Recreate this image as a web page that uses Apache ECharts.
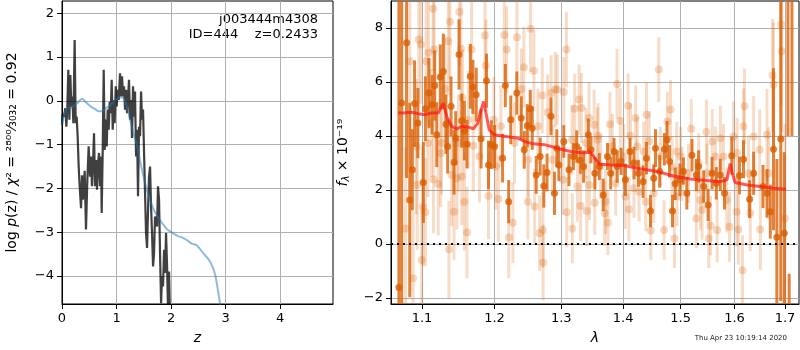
<!DOCTYPE html>
<html>
<head>
<meta charset="utf-8">
<script src="https://cdn.jsdelivr.net/npm/echarts@6.0.0/dist/echarts.min.js"></script>
<style>
  html, body { margin: 0; padding: 0; background: #fff; }
  #chart { width: 800px; height: 350px; }
</style>
</head>
<body>
<div id="chart"></div>
<script>
// left panel: log p(z)
var zGrid = [0.000, 0.012, 0.037, 0.061, 0.080, 0.098, 0.116, 0.135, 0.153, 0.171, 0.190, 0.208, 0.232, 0.251, 0.269, 0.287,
  0.306, 0.324, 0.349, 0.367, 0.385, 0.416, 0.440, 0.465, 0.489, 0.514, 0.532, 0.550, 0.569, 0.587, 0.606, 0.624, 0.642,
  0.661, 0.679, 0.697, 0.716, 0.728, 0.746, 0.765, 0.783, 0.801, 0.820, 0.838, 0.856, 0.875, 0.893, 0.911, 0.930, 0.948,
  0.966, 0.985, 1.003, 1.021, 1.040, 1.064, 1.083, 1.101, 1.119, 1.138, 1.156, 1.174, 1.193, 1.211, 1.229, 1.248, 1.266,
  1.284, 1.303, 1.321, 1.339, 1.358, 1.376, 1.394, 1.413, 1.431, 1.450, 1.468, 1.486, 1.505, 1.523, 1.541, 1.560, 1.578,
  1.596, 1.615, 1.633, 1.651, 1.670, 1.688, 1.706, 1.725, 1.743, 1.761, 1.780, 1.798, 1.817, 1.835, 1.853, 1.872, 1.890,
  1.908, 1.927, 1.945, 1.963, 1.982, 2.000];
var logpDark = [-0.55, -0.30, -0.36, -0.17, -0.59, -0.13, 0.71, -0.43, 0.59, -0.13, 0.10, -0.51, 1.39, -0.51, -0.36, -0.81,
  -1.50, -1.95, -2.45, -1.70, -2.26, -1.60, -2.94, -1.80, -1.04, -1.73, -1.27, -1.95, -1.42, -0.74, -1.95, -1.35, -2.03,
  -1.42, -1.19, -1.95, -1.27, -2.56, -1.19, 0.71, -1.12, -0.43, -1.04, -0.20, -0.66, -0.02, -0.28, 0.48, -0.66, 0.02,
  -0.51, 0.33, -0.13, 0.25, 0.02, 0.63, 0.10, 0.56, 0.10, 0.33, -0.20, 0.25, -0.28, 0.10, 0.48, -0.43, 0.02,
  -0.85, 0.33, -0.36, 0.21, -1.27, -0.66, -2.18, -0.59, -0.81, 0.21, -0.43, -0.20, -1.19, -2.11, -3.02, -3.36, -2.49,
  -1.73, -1.50, -2.41, -3.02, -3.78, -3.48, -2.64, -2.79, -2.87, -1.95, -2.26, -3.48, -4.62, -4.00, -4.24, -3.40, -3.93,
  -3.02, -3.78, -4.80, -3.90, -5.00, -6.00];
var zSmooth = [0.00, 0.03, 0.09, 0.18, 0.28, 0.37, 0.43, 0.49, 0.55, 0.61, 0.67, 0.73, 0.80, 0.86, 0.92, 0.98, 1.07, 1.13,
  1.19, 1.25, 1.31, 1.38, 1.44, 1.50, 1.56, 1.62, 1.68, 1.74, 1.83, 1.93, 2.02, 2.11, 2.20, 2.30, 2.38, 2.47, 2.59, 2.72,
  2.81, 2.90, 3.00];
var logpSmooth = [-0.55, -0.35, -0.18, -0.15, -0.05, 0.05, -0.02, -0.09, -0.15, -0.19, -0.24, -0.24, -0.17, -0.13, -0.05,
  0.02, 0.08, 0.06, -0.13, -0.43, -0.74, -1.04, -1.42, -1.75, -2.05, -2.28, -2.48, -2.62, -2.78, -2.94, -3.01, -3.08,
  -3.12, -3.19, -3.26, -3.30, -3.48, -3.68, -3.98, -4.64, -5.30];
var zTicks = [0, 1, 2, 3, 4];
var logpTicks = [-4, -3, -2, -1, 0, 1, 2];

// right panel: spectrum (wavelength in micron, flux in 1e-19)
var waveDark = [1.0700, 1.0736, 1.0799, 1.0840, 1.0874, 1.0903, 1.0946, 1.1018, 1.1045, 1.1092, 1.1134, 1.1169, 1.1197,
  1.1244, 1.1285, 1.1321, 1.1344, 1.1390, 1.1431, 1.1454, 1.1500, 1.1537, 1.1574, 1.1610, 1.1657, 1.1693,
  1.1739, 1.1808, 1.1885, 1.1913, 1.1954, 1.2000, 1.2116, 1.2156, 1.2205, 1.2236, 1.2325, 1.2390, 1.2435, 1.2480,
  1.2525, 1.2555, 1.2615, 1.2675, 1.2730, 1.2780, 1.2840, 1.2894, 1.2930,
  1.2962, 1.3039, 1.3120, 1.3190, 1.3243, 1.3300, 1.3352, 1.3428, 1.3470, 1.3534, 1.3606, 1.3670, 1.3740, 1.3793,
  1.3848, 1.3902, 1.3966, 1.4038, 1.4115, 1.4184, 1.4259,
  1.4340, 1.4397, 1.4467, 1.4524, 1.4554, 1.4628, 1.4710, 1.4757, 1.4802, 1.4854, 1.4901, 1.4988, 1.5050, 1.5112,
  1.5205, 1.5285, 1.5327, 1.5420, 1.5502, 1.5576, 1.5656, 1.5730,
  1.5810, 1.5948, 1.6095, 1.6174, 1.6293, 1.6372, 1.6557, 1.6636, 1.6702, 1.6767, 1.6834, 1.6913, 1.6984,
  1.7059, 1.7085, 1.7141];
var fluxDark = [-1.61, 5.22, 7.45, 1.63, 2.75, 5.20, 4.48, 2.28, 5.01, 5.59, 5.16, 5.87, 4.05,
  6.19, 6.39, 4.44, 3.61, 5.10, 3.03, 3.92, 7.02, 4.57, 4.20, 3.70, 6.21, 5.82,
  5.53, 3.90, 6.05, 2.93, 3.68, 3.61, 3.18, 5.87, 1.57, 4.60, 5.59, 4.67, 3.49, 4.38,
  5.01, 4.29, 2.56, 3.24, 2.15, 2.65, 4.73, 1.88, 3.55,
  2.93, 3.80, 2.75, 3.24, 3.61, 3.10, 2.87, 4.05, 3.49, 2.62, 2.87, 1.82, 3.24, 2.62,
  3.43, 2.87, 3.06, 2.38, 3.43, 3.00, 2.62,
  2.31, 3.18, 1.22, 2.44, 3.55, 2.69, 3.51, 3.86, 3.06, 1.22, 2.23, 2.38, 2.70, 1.88,
  3.29, 2.56, 2.87, 2.13, 1.45, 2.62, 2.25, 2.56,
  1.88, 3.27, 2.54, 3.14, 1.66, 2.62, 2.13, 1.88, 1.20, 3.51, 0.25, 3.89, 0.40,
  13.0, -4.0, 13.0];
var errDark = [12.0, 9.0, 5.0, 3.6, 1.5, 1.6, 1.3, 1.5, 1.2, 1.3, 1.1, 1.3, 1.2,
  1.2, 1.4, 1.1, 1.0, 1.1, 1.2, 1.0, 1.3, 1.0, 1.1, 0.9, 1.2, 1.0,
  1.0, 1.1, 1.0, 0.9, 0.9, 0.8, 0.9, 0.8, 0.8, 0.9, 0.8, 0.8, 0.7, 0.8,
  0.7, 0.8, 0.7, 0.7, 0.8, 0.7, 0.7, 0.8, 0.7,
  0.6, 0.6, 0.6, 0.5, 0.6, 0.5, 0.6, 0.6, 0.5, 0.6, 0.5, 0.6, 0.5, 0.6,
  0.5, 0.6, 0.5, 0.6, 0.5, 0.6, 0.5,
  0.6, 0.6, 0.6, 0.5, 0.7, 0.6, 0.6, 0.7, 0.6, 0.6, 0.6, 0.6, 0.5, 0.6,
  0.6, 0.6, 0.6, 0.6, 0.6, 0.6, 0.6, 0.6,
  0.6, 0.7, 0.7, 0.7, 0.7, 0.8, 0.8, 0.9, 1.0, 3.0, 2.9, 6.0, 3.0,
  9.0, 2.9, 9.0];

var waveLight = [1.0786, 1.0840, 1.0883, 1.0925, 1.0937, 1.0958, 1.0987, 1.0996, 1.1010, 1.1045, 1.1055, 1.1078, 1.1087,
  1.1124, 1.1147, 1.1152, 1.1161, 1.1216, 1.1248, 1.1262, 1.1307, 1.1354, 1.1362, 1.1376, 1.1399, 1.1431, 1.1472,
  1.1492, 1.1505, 1.1527, 1.1537, 1.1547, 1.1574, 1.1610, 1.1629, 1.1675, 1.1698,
  1.1785, 1.1863, 1.1877, 1.1913, 1.1992, 1.2017, 1.2056, 1.2092, 1.2141, 1.2176, 1.2206, 1.2266, 1.2291, 1.2326,
  1.2392, 1.2430, 1.2490, 1.2495, 1.2531, 1.2580, 1.2591, 1.2641, 1.2666, 1.2707, 1.2716, 1.2720, 1.2790, 1.2842,
  1.2866, 1.2906,
  1.2936, 1.3028, 1.3039, 1.3080, 1.3085, 1.3168, 1.3173, 1.3210, 1.3254, 1.3280, 1.3305, 1.3317, 1.3389, 1.3403,
  1.3441, 1.3446, 1.3522, 1.3532, 1.3576, 1.3587, 1.3629, 1.3693, 1.3710, 1.3748, 1.3781, 1.3820, 1.3875, 1.3899,
  1.3952, 1.4009, 1.4038, 1.4085, 1.4097, 1.4125, 1.4184, 1.4212, 1.4240, 1.4271,
  1.4351, 1.4386, 1.4398, 1.4445, 1.4473, 1.4524, 1.4612, 1.4640, 1.4705, 1.4762, 1.4819, 1.4843, 1.4889, 1.4930,
  1.4935, 1.5000, 1.5025, 1.5142, 1.5192, 1.5285, 1.5327, 1.5359, 1.5391, 1.5471, 1.5483, 1.5514, 1.5546, 1.5578,
  1.5638, 1.5671, 1.5732,
  1.5790, 1.5853, 1.5905, 1.5980, 1.6044, 1.6050, 1.6075, 1.6154, 1.6174, 1.6194, 1.6273, 1.6306, 1.6372, 1.6490,
  1.6504, 1.6636, 1.6668, 1.6747, 1.6767, 1.6919, 1.6933, 1.6998];
var fluxLight = [0.58, 6.77, -1.27, 3.61, 2.19, 7.57, 7.39, -0.59, 1.38, 1.18, 6.77, 3.74, 7.08,
  4.48, 8.71, 2.40, 7.20, 2.22, 3.37, 3.74, 5.74, 7.51, -0.20, 8.23, 2.56, 1.20, 2.44,
  3.74, 8.60, 7.23, 2.50, 5.41, 1.57, 0.43, 4.60, 7.20, 3.64,
  3.24, 7.72, 6.61, 1.78, 4.60, 2.87, 1.67, 4.36, 7.74, 7.20, 0.24, 0.79, 3.74, 7.66,
  5.74, 6.55, 1.57, 3.12, 7.97, 6.42, 1.39, 4.36, 0.40, 5.50, 0.52, -0.68, 4.88, 5.59,
  3.12, 5.72,
  5.72, 2.38, 5.63, 7.20, 1.18, 3.86, 0.58, 5.01, 2.13, 5.35, 1.41, 5.04, 3.74, 1.22,
  4.67, 2.19, 4.42, 1.53, 3.86, 4.01, 2.87, 1.14, 1.57, 0.79, 4.44, 3.61, 2.25, 5.93,
  4.57, 3.24, 1.76, 5.12, 1.29, 4.01, 2.07, 4.67, 3.61, 1.94,
  3.43, 1.57, 4.79, 3.82, 0.50, 1.88, 6.46, 3.24, 0.52, 4.54, 4.98, 2.87, 0.21, 3.43,
  1.76, 3.24, 2.60, 2.62, 4.27, 0.95, 3.00, 1.63, 1.26, 4.15, 2.62, 0.21, 0.68, 3.80,
  3.24, 0.52, 3.92,
  3.24, 1.63, 0.64, 3.98, 1.20, 3.37, 0.54, -0.97, 4.36, 5.10, 2.62, 1.14, 3.98, 3.49,
  0.54, 4.05, 2.62, 6.24, 5.90, 8.13, 7.14, 0.95];
var errLight = [3.0, 2.8, 2.5, 2.5, 2.4, 2.5, 2.2, 2.0, 2.2, 2.0, 2.2, 2.0, 2.1,
  2.0, 2.3, 2.0, 2.1, 1.9, 2.0, 1.9, 2.0, 2.0, 1.8, 2.1, 1.9, 1.8, 1.9,
  1.8, 2.0, 1.9, 1.8, 1.8, 1.8, 1.7, 1.8, 1.8, 1.7,
  1.7, 1.8, 1.7, 1.6, 1.6, 1.6, 1.6, 1.5, 1.7, 1.6, 1.5, 1.5, 1.5, 1.6,
  1.5, 1.5, 1.4, 1.4, 1.6, 1.5, 1.4, 1.4, 1.4, 1.4, 1.4, 1.4, 1.4, 1.4,
  1.3, 1.4,
  1.3, 1.3, 1.3, 1.4, 1.3, 1.3, 1.3, 1.3, 1.3, 1.3, 1.3, 1.3, 1.3, 1.3,
  1.3, 1.3, 1.3, 1.2, 1.2, 1.2, 1.2, 1.2, 1.2, 1.2, 1.2, 1.2, 1.2, 1.3,
  1.2, 1.2, 1.2, 1.2, 1.2, 1.2, 1.1, 1.2, 1.1, 1.1,
  1.1, 1.1, 1.2, 1.1, 1.1, 1.1, 1.2, 1.1, 1.1, 1.1, 1.1, 1.1, 1.1, 1.1,
  1.1, 1.1, 1.0, 1.1, 1.1, 1.1, 1.1, 1.1, 1.1, 1.2, 1.1, 1.1, 1.1, 1.2,
  1.1, 1.2, 1.2,
  1.2, 1.2, 1.3, 1.3, 1.3, 1.3, 1.3, 1.3, 1.4, 1.4, 1.4, 1.4, 1.5, 1.5,
  1.5, 1.7, 1.7, 2.1, 2.3, 3.0, 3.0, 3.5];

var modelWave = [1.0690, 1.0757, 1.0862, 1.0946, 1.1032, 1.1124, 1.1216, 1.1262, 1.1285, 1.1331, 1.1399, 1.1468, 1.1537,
  1.1629, 1.1698, 1.1762, 1.1809, 1.1844, 1.1877, 1.1923, 1.1992, 1.2141, 1.2341, 1.2441, 1.2565, 1.2741, 1.2936,
  1.3147, 1.3363, 1.3444, 1.3497, 1.3606, 1.3793, 1.4009, 1.4293, 1.4583, 1.4871, 1.5174, 1.5483, 1.5732, 1.5856,
  1.5918, 1.5949, 1.6012, 1.6243, 1.6504, 1.6767, 1.7020];
var modelFlux = [4.85, 4.85, 4.88, 4.83, 4.79, 4.85, 4.85, 5.10, 5.22, 4.73, 4.36, 4.26, 4.36,
  4.33, 4.27, 4.48, 4.98, 5.28, 4.85, 4.23, 4.05, 3.99, 3.92, 3.80, 3.71, 3.68, 3.55,
  3.43, 3.37, 3.43, 3.30, 2.96, 2.93, 2.91, 2.79, 2.69, 2.52, 2.41, 2.35, 2.31, 2.38,
  2.98, 2.69, 2.28, 2.19, 2.13, 2.07, 2.03];
var lamTicks = [1.1, 1.2, 1.3, 1.4, 1.5, 1.6, 1.7];
var fluxTicks = [-2, 0, 2, 4, 6, 8];

var orange = 'rgb(217,95,2)';
var orangeBar = 'rgba(217,95,2,0.78)';
var paleBar = 'rgba(217,95,2,0.22)';
var paleDot = 'rgba(217,95,2,0.3)';
var gridGray = '#b0b0b0';
var font = 'DejaVu Sans';

function pairs(xs, ys) {
  return xs.map(function (x, i) { return [x, ys[i]]; });
}
function specPoints(ws, fs, es) {
  return ws.map(function (w, i) { return [Math.log(w), fs[i], es[i]]; });
}
function minus(v) {
  return String(v).replace('-', '\u2212');
}
function errBars(color) {
  return function (params, api) {
    var x = api.value(0), y = api.value(1), e = api.value(2);
    var lo = api.coord([x, y - e]);
    var hi = api.coord([x, y + e]);
    return {
      type: 'line',
      shape: { x1: lo[0], y1: lo[1], x2: hi[0], y2: hi[1] },
      style: { stroke: color, lineWidth: 3 }
    };
  };
}

var axisText = { color: '#000', fontFamily: font, fontSize: 13 };
var tick = { show: true, inside: false, length: 5, lineStyle: { color: '#000', width: 1 } };
var axisLine = { show: true, onZero: false, lineStyle: { color: '#000', width: 1 } };
var splitLine = { show: true, lineStyle: { color: gridGray, width: 1 } };

var chart = echarts.init(document.getElementById('chart'), null, { renderer: 'canvas' });

var option = {
  animation: false,
  backgroundColor: '#fff',
  grid: [
    { left: 62, top: 1, width: 271, height: 303, show: true, borderColor: '#000', borderWidth: 1, backgroundColor: 'transparent' },
    { left: 391, top: 1, width: 408, height: 303, show: true, borderColor: '#000', borderWidth: 1, backgroundColor: 'transparent' }
  ],
  xAxis: [
    {
      type: 'value', gridIndex: 0, min: 0, max: 4.97,
      name: 'z', nameLocation: 'middle', nameGap: 27,
      nameTextStyle: { color: '#000', fontFamily: font, fontSize: 14, fontStyle: 'italic' },
      axisLine: axisLine, axisTick: Object.assign({ customValues: zTicks }, tick),
      axisLabel: Object.assign({ customValues: zTicks, margin: 8, formatter: minus }, axisText),
      splitLine: splitLine
    },
    {
      type: 'value', gridIndex: 1, min: Math.log(1.0599), max: Math.log(1.7287),
      name: '\u03bb', nameLocation: 'middle', nameGap: 27,
      nameTextStyle: { color: '#000', fontFamily: font, fontSize: 14, fontStyle: 'italic' },
      axisLine: axisLine,
      axisTick: Object.assign({ customValues: lamTicks.map(Math.log) }, tick),
      axisLabel: Object.assign({
        customValues: lamTicks.map(Math.log), margin: 8,
        formatter: function (v) { return Math.exp(v).toFixed(1); }
      }, axisText),
      splitLine: splitLine
    }
  ],
  yAxis: [
    {
      type: 'value', gridIndex: 0, min: -4.64, max: 2.28,
      name: '{t|log }{i|p}{t|(z) / }{i|\u03c7}{t|\u00b2 = \u00b2\u2078\u2070\u2070\u2044\u2083\u2080\u2083\u2082 = 0.92}',
      nameLocation: 'middle', nameGap: 43,
      nameTextStyle: {
        rich: {
          t: { color: '#000', fontFamily: font, fontSize: 14 },
          i: { color: '#000', fontFamily: font, fontSize: 14, fontStyle: 'italic' }
        }
      },
      axisLine: axisLine, axisTick: Object.assign({ customValues: logpTicks }, tick),
      axisLabel: Object.assign({ customValues: logpTicks, margin: 8, formatter: minus }, axisText),
      splitLine: splitLine
    },
    {
      type: 'value', gridIndex: 1, min: -2.22, max: 9.0,
      name: '{i|f}{s|\u03bb}{t| \u00d7 10\u207b\u00b9\u2079}',
      nameLocation: 'middle', nameGap: 40,
      nameTextStyle: {
        rich: {
          t: { color: '#000', fontFamily: font, fontSize: 14 },
          i: { color: '#000', fontFamily: font, fontSize: 14, fontStyle: 'italic' },
          s: { color: '#000', fontFamily: font, fontSize: 10, fontStyle: 'italic', padding: [6, 0, 0, 0] }
        }
      },
      axisLine: axisLine, axisTick: Object.assign({ customValues: fluxTicks }, tick),
      axisLabel: Object.assign({ customValues: fluxTicks, margin: 8, formatter: minus }, axisText),
      splitLine: splitLine
    }
  ],
  graphic: [
    { type: 'text', right: 482, top: 13, style: { text: 'j003444m4308', fill: '#000', font: '13px "DejaVu Sans"', textAlign: 'right' } },
    { type: 'text', right: 482, top: 28, style: { text: 'ID=444    z=0.2433', fill: '#000', font: '13px "DejaVu Sans"', textAlign: 'right' } },
    { type: 'text', right: 13, top: 335, style: { text: 'Thu Apr 23 10:19:14 2020', fill: '#222', font: '7px "DejaVu Sans"' } }
  ],
  series: [
    {
      type: 'line', xAxisIndex: 0, yAxisIndex: 0, data: pairs(zGrid, logpDark),
      showSymbol: false, clip: true, z: 3,
      lineStyle: { color: 'rgba(0,0,0,0.75)', width: 2.2 }
    },
    {
      type: 'line', xAxisIndex: 0, yAxisIndex: 0, data: pairs(zSmooth, logpSmooth),
      showSymbol: false, smooth: 0.3, clip: true, z: 4,
      lineStyle: { color: 'rgba(31,119,180,0.5)', width: 2 }
    },
    {
      type: 'custom', xAxisIndex: 1, yAxisIndex: 1, data: specPoints(waveLight, fluxLight, errLight),
      renderItem: errBars(paleBar), clip: true, z: 2, encode: { x: 0, y: 1 }
    },
    {
      type: 'scatter', xAxisIndex: 1, yAxisIndex: 1, data: specPoints(waveLight, fluxLight, errLight),
      symbolSize: 8, clip: true, z: 2, itemStyle: { color: paleDot }
    },
    {
      type: 'custom', xAxisIndex: 1, yAxisIndex: 1, data: specPoints(waveDark, fluxDark, errDark),
      renderItem: errBars(orangeBar), clip: true, z: 3, encode: { x: 0, y: 1 }
    },
    {
      type: 'scatter', xAxisIndex: 1, yAxisIndex: 1, data: specPoints(waveDark, fluxDark, errDark),
      symbolSize: 7, clip: true, z: 3, itemStyle: { color: orange },
      markLine: {
        silent: true, symbol: 'none', animation: false,
        label: { show: false },
        lineStyle: { color: '#000', type: [2, 4], width: 2 },
        data: [{ yAxis: 0 }]
      }
    },
    {
      type: 'line', xAxisIndex: 1, yAxisIndex: 1, data: pairs(modelWave.map(Math.log), modelFlux),
      showSymbol: false, clip: true, z: 5,
      lineStyle: { color: 'rgba(255,20,20,0.7)', width: 3 }
    }
  ]
};

chart.setOption(option);
</script>
</body>
</html>
